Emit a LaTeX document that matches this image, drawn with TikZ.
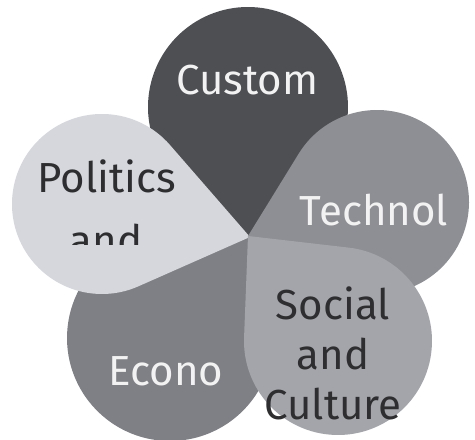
\documentclass[tikz,border=0pt]{standalone}
\usepackage{fontspec}
\setmainfont{Fira Sans}
\definecolor{ccustom}{HTML}{4D4F53}
\definecolor{cpolitics}{HTML}{D5D7DC}
\definecolor{ctechnol}{HTML}{8E8F94}
\definecolor{csocial}{HTML}{A4A5AA}
\definecolor{cecono}{HTML}{7F8085}
\definecolor{tlight}{HTML}{F2F2F2}
\definecolor{tdark}{HTML}{2E2E30}
% petal: Ox, Oy, r, Tx, Ty, fill colour
\newcommand\petalshape[6]{%
  \pgfmathsetmacro\pdx{#4-#1}%
  \pgfmathsetmacro\pdy{#5-#2}%
  \pgfmathsetmacro\pdd{veclen(\pdx,\pdy)}%
  \pgfmathsetmacro\pth{atan2(\pdy,\pdx)}%
  \pgfmathsetmacro\pph{acos(#3/\pdd)}%
  \pgfmathsetmacro\pa{\pth+\pph}%
  \pgfmathsetmacro\pb{\pth-\pph+360}%
  \fill[#6] (#4,#5) -- ([shift={(#1,#2)}]\pa:#3pt) arc[start angle=\pa, end angle=\pb, radius=#3pt] -- cycle;
}
\tikzset{
  lbl/.style={font=\fontsize{42}{50}\selectfont, anchor=base, inner sep=0pt},
  lightlbl/.style={lbl, text=tlight},
  darklbl/.style={lbl, text=tdark}
}
\begin{document}
\begin{tikzpicture}[x=1pt,y=1pt]
\useasboundingbox (0,0) rectangle (475,440);
\fill[white] (0,0) rectangle (475,440);
% petals, back to front
\petalshape{248}{333}{100}{248}{203}{ccustom}
\petalshape{170}{102}{103}{248}{203}{cecono}
\petalshape{102}{236}{90}{250}{203}{cpolitics}
\petalshape{377}{238}{92}{248}{204}{ctechnol}
\petalshape{338}{99}{94}{248}{204}{csocial}
% labels
\node[lightlbl] (custom) at (247.5,345) {Custom};
\node[darklbl] (politics) at (107,247) {Politics};
\begin{scope}
  \clip (40,195) rectangle (180,240);
  \node[darklbl] (pand) at (106,184) {and};
\end{scope}
\node[lightlbl] (technol) at (374,214) {Technol};
\node[lightlbl] (econo) at (166,54) {Econo};
\node[darklbl] (social) at (333,120) {Social};
\node[darklbl] (sand) at (333,70) {and};
\node[darklbl] (culture) at (333,20) {Culture};
\end{tikzpicture}
\end{document}
